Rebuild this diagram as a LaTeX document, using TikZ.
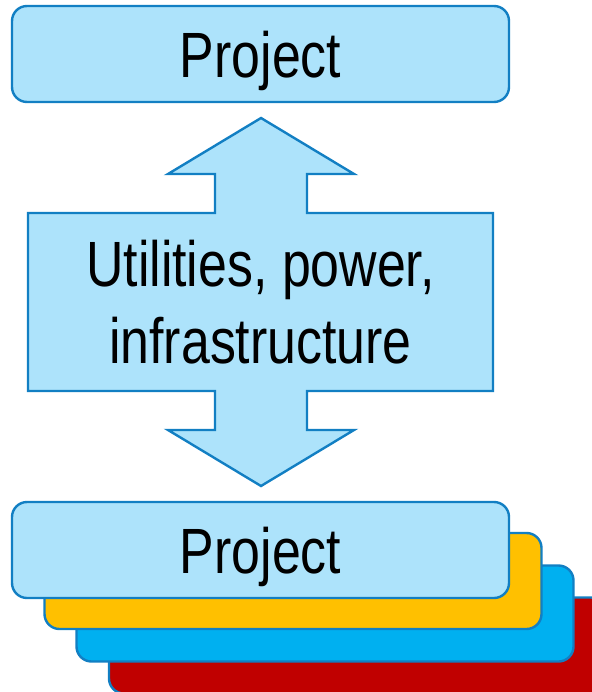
\documentclass[tikz,border=0pt]{standalone}
\usepackage{fontspec}
\setmainfont{Liberation Sans}[FakeStretch=0.81]
\definecolor{lblue}{HTML}{ADE3FB}
\definecolor{edgeblue}{HTML}{127FC3}
\definecolor{orangebox}{HTML}{FFC000}
\definecolor{bluebox}{HTML}{00B0F0}
\definecolor{redbox}{HTML}{C00000}
\tikzset{
  projbox/.style={draw=edgeblue, line width=2.4pt, rounded corners=15pt,
    minimum width=497pt, minimum height=96pt, inner sep=0pt,
    font=\fontsize{64}{77}\selectfont},
  bigtext/.style={inner sep=0pt, align=center, font=\fontsize{64}{77}\selectfont}
}
\begin{document}
\begin{tikzpicture}[x=1pt,y=-1pt]
\useasboundingbox (0,0) rectangle (591,692);
% stacked project boxes
\node[projbox, fill=redbox] (red) at (357.5,645.5) {};
\node[projbox, fill=bluebox] (blue) at (325,613.5) {};
\node[projbox, fill=orangebox] (orange) at (293,581) {};
\node[projbox, fill=lblue] (bottom) at (260.5,550) {};
\node[inner sep=0pt, anchor=base, font=\fontsize{64}{77}\selectfont] (bottomtext) at (260.5,573) {Project};
% top project box
\node[projbox, fill=lblue] (top) at (260.5,54) {};
\node[inner sep=0pt, anchor=base, font=\fontsize{64}{77}\selectfont] (toptext) at (260.5,78) {Project};
% double arrow
\draw[draw=edgeblue, line width=2.4pt, fill=lblue, line join=miter]
  (261,118) -- (354,174) -- (307,174) -- (307,213) -- (493,213) -- (493,391)
  -- (307,391) -- (307,430) -- (354,430) -- (261,486) -- (168,430) -- (215,430)
  -- (215,391) -- (28,391) -- (28,213) -- (215,213) -- (215,174) -- (168,174) -- cycle;
\node[bigtext] (util) at (260.5,302.5) {Utilities, power,\\infrastructure};
\end{tikzpicture}
\end{document}
